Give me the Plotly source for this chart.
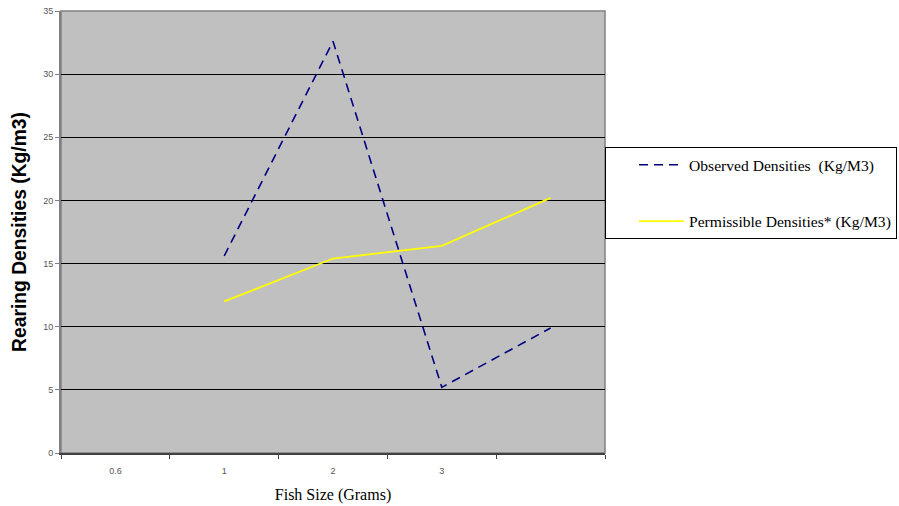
import plotly.graph_objects as go

categories = ["0.6", "1", "2", "3", " "]
observed_x = ["1", "2", "3", " "]
observed = [15.6, 32.6, 5.2, 9.9]
permissible_x = ["1", "2", "3", " "]
permissible = [12.0, 15.4, 16.4, 20.2]
y_ticks = [0, 5, 10, 15, 20, 25, 30, 35]

fig = go.Figure()
fig.add_trace(go.Scatter(
    x=observed_x, y=observed, mode="lines",
    name="Observed Densities  (Kg/M3)", legendgroup="a",
    line=dict(color="#000080", width=1.6, dash="9px,6px"),
))
fig.add_trace(go.Scatter(
    x=permissible_x, y=permissible, mode="lines",
    name="Permissible Densities* (Kg/M3)", legendgroup="b",
    line=dict(color="#FFFF00", width=1.8),
))

fig.add_shape(type="rect", xref="paper", yref="paper", x0=0, x1=1, y0=0, y1=1,
              line=dict(color="#808080", width=1.5), layer="below")

fig.update_layout(
    width=899, height=506,
    margin=dict(l=61, r=294, t=11, b=53, autoexpand=False),
    paper_bgcolor="white", plot_bgcolor="#C0C0C0",
    showlegend=True,
    legend=dict(
        x=1.0, xanchor="left", y=0.692, yanchor="top",
        bgcolor="white", bordercolor="black", borderwidth=1,
        font=dict(family="Liberation Serif", size=15.6, color="black"),
        tracegroupgap=33, itemwidth=45, indentation=28,
    ),
    xaxis=dict(
        type="category", categoryorder="array", categoryarray=categories,
        range=[-0.5, 4.5], tickson="boundaries",
        ticks="outside", ticklen=4, tickcolor="#404040", tickwidth=1,
        showgrid=False, zeroline=False,
        showline=True, linecolor="#404040", linewidth=2,
        tickfont=dict(family="Liberation Sans", size=9, color="#555555"),
        ticklabelstandoff=8,
        title=dict(text="Fish Size (Grams)", standoff=14,
                   font=dict(family="Liberation Serif", size=16, color="black")),
    ),
    yaxis=dict(
        range=[0, 35], tickvals=y_ticks,
        ticks="outside", ticklen=4, tickcolor="#808080", tickwidth=1,
        showgrid=True, gridcolor="black", gridwidth=1,
        zeroline=False,
        showline=True, linecolor="#808080", linewidth=2,
        tickfont=dict(family="Liberation Sans", size=9, color="#555555"),
        title=dict(text="<b>Rearing Densities (Kg/m3)</b>", standoff=11,
                   font=dict(family="Liberation Sans", size=19.3, color="black")),
    ),
)

fig.write_html("out.html")
